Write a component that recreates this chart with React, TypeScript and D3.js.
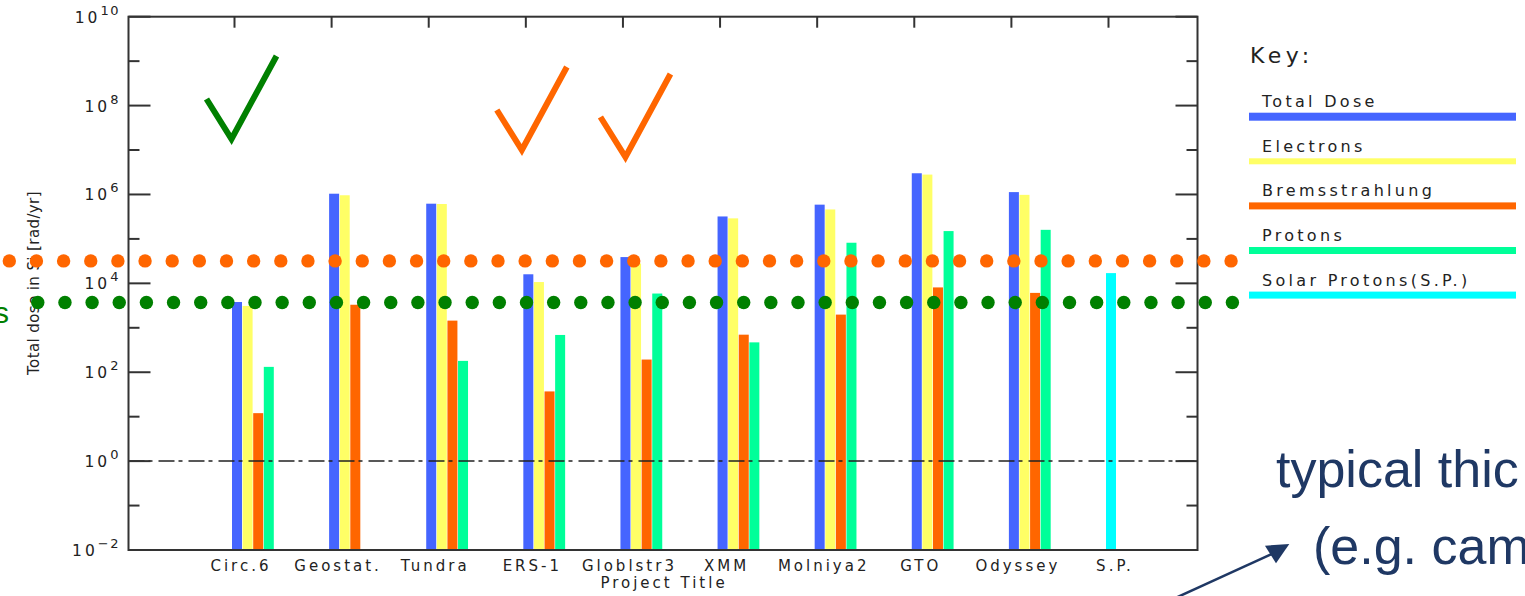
import React, { useEffect } from 'react';
import * as d3 from 'd3';

// chart data (rad/yr)
const categories = ['Circ.6', 'Geostat.', 'Tundra', 'ERS-1', 'Globlstr3', 'XMM', 'Molniya2', 'GTO', 'Odyssey', 'S.P.'];
const totalDose = [3.8e3, 1.04e6, 6.2e5, 1.6e4, 3.9e4, 3.2e5, 5.9e5, 3.0e6, 1.13e6, null];
const electrons = [3.1e3, 9.6e5, 6.1e5, 1.07e4, 2.8e4, 2.9e5, 4.6e5, 2.8e6, 9.8e5, null];
const bremsstrahlung = [12, 3.3e3, 1.45e3, 37, 193, 700, 1.98e3, 8.1e3, 6.1e3, null];
const protons = [132, null, 180, 690, 5.9e3, 470, 8.2e4, 1.5e5, 1.6e5, null];
const solarProtons = [null, null, null, null, null, null, null, null, null, 1.7e4];

const seriesNames = ['Total Dose', 'Electrons', 'Bremsstrahlung', 'Protons', 'Solar Protons(S.P.)'];
const seriesColors = ['#4565ff', '#ffff66', '#ff6600', '#00ff99', '#00ffff'];
const seriesSlots = [0, 1, 2, 3, 0];
const legendThickness = [8, 6, 7, 7, 7];

const yTickExponents = [-2, 0, 2, 4, 6, 8, 10];

// dotted reference levels drawn over the chart
const orangeLevel = 3.2e4;
const greenLevel = 3.7e3;

// tick marks over some projects
const checks = [
  { cat: 'Circ.6', dx: -3, y: 139, color: '#008000' },
  { cat: 'ERS-1', dx: -4, y: 150, color: '#ff6600' },
  { cat: 'Globlstr3', dx: 2.5, y: 157, color: '#ff6600' },
];

const margin = { top: 16.7, right: 1197.5, bottom: 550, left: 128.5 };
const navy = '#1f3864';
const font = '"DejaVu Sans", sans-serif';
const slideFont = '"Liberation Sans", Arial, sans-serif';

const App = () => {
  useEffect(() => {
    document.body.style.margin = '0';
  }, []);

  const y = d3.scaleLog().domain([1e-2, 1e10]).range([margin.bottom, margin.top]);
  const x = d3.scalePoint<string>().domain(categories).range([234.5, 1108.5]);
  const series = [totalDose, electrons, bremsstrahlung, protons, solarProtons];

  const barW = 10;
  const barStep = 10.6;
  const barShift = -2.5;

  const decades = d3.range(-2, 11);
  const orangeDots = d3.range(9.3, 1234, 27.15);
  const greenDots = d3.range(37.8, 1235, 27.15);

  return (
    <svg width={1525} height={596} style={{ position: 'absolute', left: 0, top: 0, overflow: 'hidden', background: '#fff' }}>
      <rect width={1525} height={596} fill="#fff" />

      {/* bars */}
      {series.map((vals, s) => (
        <g key={s} fill={seriesColors[s]}>
          {vals.map((v, i) =>
            v == null ? null : (
              <rect
                key={i}
                x={(x(categories[i]) as number) + barShift + seriesSlots[s] * barStep}
                y={y(v)}
                width={barW}
                height={margin.bottom - y(v)}
              />
            )
          )}
        </g>
      ))}

      {/* 10^0 reference */}
      <line x1={margin.left} x2={margin.right} y1={y(1)} y2={y(1)} stroke="#222" strokeWidth={1.5} strokeDasharray="16 4 4 6" />

      {/* frame + ticks */}
      <g stroke="#333" strokeWidth={2}>
        <rect x={margin.left} y={margin.top} width={margin.right - margin.left} height={margin.bottom - margin.top} fill="none" />
        {decades.map(d => {
          const len = d % 2 === 0 ? 22 : 11;
          const yy = y(Math.pow(10, d));
          return (
            <g key={d}>
              <line x1={margin.left} x2={margin.left + len} y1={yy} y2={yy} />
              <line x1={margin.right} x2={margin.right - len} y1={yy} y2={yy} />
            </g>
          );
        })}
        {categories.map(c => (
          <line key={c} x1={x(c)} x2={x(c)} y1={margin.top} y2={margin.top + 11} />
        ))}
      </g>

      {/* y tick labels */}
      <g fontFamily={font} fill="#222" textAnchor="end">
        {yTickExponents.map(e => (
          <text key={e} x={120} y={y(Math.pow(10, e)) + 6} fontSize={15.5} letterSpacing={3}>
            10
            <tspan dy={-8} fontSize={13} letterSpacing={1.5}>{e < 0 ? '\u2212' + Math.abs(e) : e}</tspan>
          </text>
        ))}
      </g>

      <text
        transform="translate(39,283) rotate(-90)"
        textAnchor="middle"
        fontFamily={font}
        fontSize={15}
        letterSpacing={0.4}
        fill="#222"
      >
        Total dose in Si [rad/yr]
      </text>

      {/* x labels */}
      <g fontFamily={font} fontSize={15} letterSpacing={3} fill="#222" textAnchor="middle">
        {categories.map(c => (
          <text key={c} x={(x(c) as number) + 6.5} y={571}>{c}</text>
        ))}
        <text x={664} y={588}>Project Title</text>
      </g>

      {/* legend */}
      <text x={1250} y={63} fontFamily={font} fontSize={22} letterSpacing={4.5} fill="#222">Key:</text>
      {seriesNames.map((n, i) => {
        const yy = 116.7 + i * 44.6;
        return (
          <g key={n}>
            <text x={1262} y={yy - 9.5} fontFamily={font} fontSize={16} letterSpacing={3.3} fill="#222">{n}</text>
            <rect x={1249} y={yy - legendThickness[i] / 2} width={267} height={legendThickness[i]} fill={seriesColors[i]} />
          </g>
        );
      })}

      {/* dotted levels */}
      <g fill="#ff6600">
        {orangeDots.map((cx, i) => <circle key={i} cx={cx} cy={y(orangeLevel)} r={6.7} />)}
      </g>
      <g fill="#008000">
        {greenDots.map((cx, i) => <circle key={i} cx={cx} cy={y(greenLevel)} r={6.7} />)}
      </g>

      {/* check marks */}
      {checks.map((c, i) => {
        const bx = (x(c.cat) as number) + c.dx;
        const by = c.y;
        return (
          <polyline
            key={i}
            points={`${bx - 25},${by - 40} ${bx},${by} ${bx + 45},${by - 83}`}
            fill="none"
            stroke={c.color}
            strokeWidth={6}
            strokeLinejoin="miter"
          />
        );
      })}

      {/* slide text around the chart */}
      <text x={-6} y={323} fontFamily={slideFont} fontSize={30} fill="#008000">s</text>
      <g fontFamily={slideFont} fontSize={52} fill={navy}>
        <text x={1276} y={487}>typical thic</text>
        <text x={1313} y={564}>(e.g. cam</text>
      </g>
      <line x1={1171} y1={600} x2={1272} y2={554} stroke={navy} strokeWidth={2.5} />
      <polygon points="1289.3,544 1265,545.7 1276,563.3" fill={navy} />
    </svg>
  );
};

export default App;
